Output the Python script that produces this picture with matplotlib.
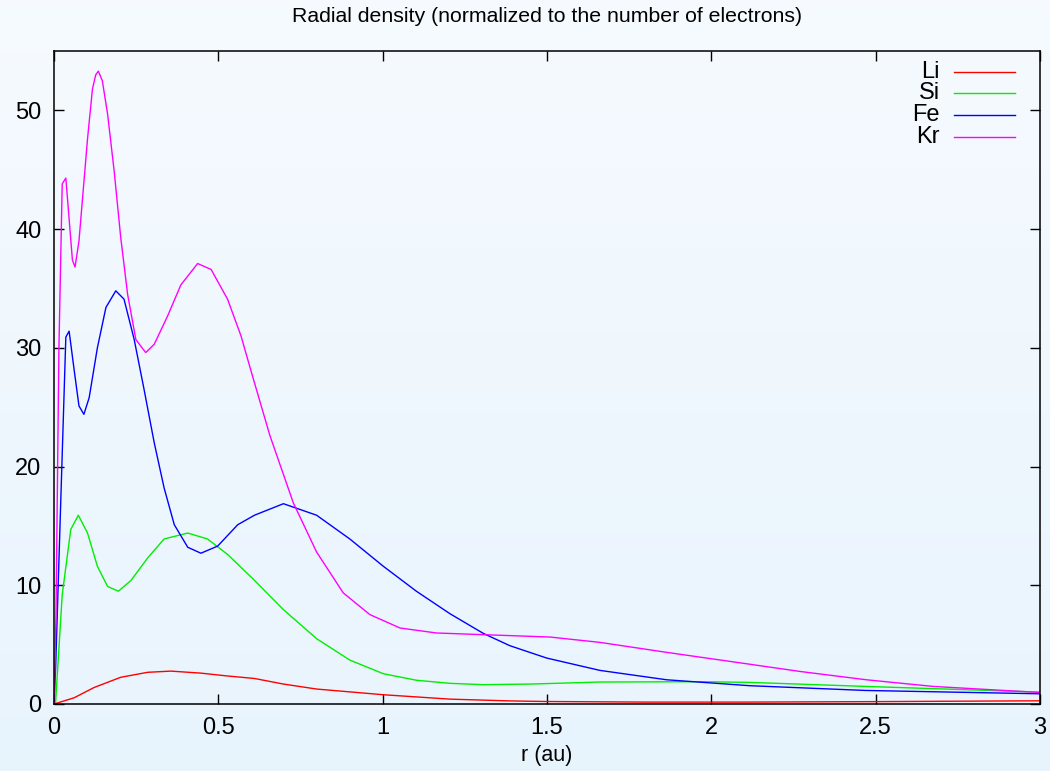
import matplotlib
matplotlib.use('Agg')
import matplotlib.pyplot as plt
import numpy as np

plt.rcParams['font.family'] = ['Liberation Sans', 'DejaVu Sans']

# radial densities (r in au)
LI_R = [0.0, 0.061, 0.122, 0.203, 0.285, 0.356, 0.447, 0.528, 0.61, 0.698,
        0.799, 1.002, 1.205, 1.387, 1.5, 1.8, 2.1, 2.5, 3.0]
LI_V = [0.0, 0.52, 1.39, 2.25, 2.67, 2.77, 2.6, 2.36, 2.15, 1.68,
        1.26, 0.78, 0.41, 0.26, 0.21, 0.16, 0.16, 0.2, 0.27]

SI_R = [0.0, 0.005, 0.025, 0.051, 0.074, 0.102, 0.132, 0.163, 0.196, 0.234,
        0.285, 0.335, 0.407, 0.467, 0.528, 0.605, 0.698, 0.799, 0.9, 1.002,
        1.103, 1.205, 1.306, 1.45, 1.661, 1.965, 2.117, 2.47, 3.0]
SI_V = [0.0, 0.2, 9.2, 14.7, 15.9, 14.4, 11.6, 9.9, 9.5, 10.4,
        12.3, 13.9, 14.4, 13.9, 12.6, 10.55, 7.95, 5.5, 3.7, 2.55,
        2.0, 1.74, 1.63, 1.68, 1.85, 1.88, 1.82, 1.48, 1.0]

FE_R = [0.0, 0.005, 0.036, 0.046, 0.061, 0.076, 0.091, 0.107, 0.132, 0.158,
        0.188, 0.213, 0.244, 0.274, 0.305, 0.335, 0.366, 0.407, 0.447, 0.498,
        0.559, 0.61, 0.698, 0.799, 0.9, 1.002, 1.103, 1.205, 1.306, 1.387,
        1.499, 1.661, 1.864, 2.117, 2.47, 3.0]
FE_V = [0.0, 3.1, 30.9, 31.4, 28.2, 25.1, 24.4, 25.8, 30.0, 33.4,
        34.8, 34.1, 30.7, 26.5, 22.0, 18.2, 15.1, 13.2, 12.7, 13.3,
        15.1, 15.9, 16.87, 15.9, 13.9, 11.6, 9.49, 7.6, 5.95, 4.91,
        3.87, 2.83, 2.04, 1.54, 1.14, 0.86]

KR_R = [0.0, 0.006, 0.015, 0.025, 0.036, 0.056, 0.064, 0.076, 0.102, 0.117,
        0.127, 0.135, 0.147, 0.163, 0.183, 0.203, 0.224, 0.249, 0.279, 0.305,
        0.346, 0.386, 0.437, 0.478, 0.528, 0.569, 0.6, 0.657, 0.728, 0.799,
        0.88, 0.961, 1.053, 1.164, 1.306, 1.509, 1.661, 1.864, 2.117, 2.27,
        2.472, 2.675, 3.0]
KR_V = [0.0, 7.4, 30.0, 43.8, 44.3, 37.4, 36.8, 39.0, 47.6, 51.8,
        53.0, 53.3, 52.5, 49.7, 44.9, 39.3, 34.5, 30.7, 29.6, 30.3,
        32.7, 35.3, 37.1, 36.6, 34.1, 31.0, 28.0, 22.6, 16.95, 12.8,
        9.36, 7.53, 6.4, 5.98, 5.84, 5.64, 5.19, 4.35, 3.35, 2.74,
        2.04, 1.48, 0.97]

SERIES = [('Li', LI_R, LI_V, '#ff0000'),
          ('Si', SI_R, SI_V, '#00ee00'),
          ('Fe', FE_R, FE_V, '#0000ff'),
          ('Kr', KR_R, KR_V, '#ff00ff')]

XTICKS = [0, 0.5, 1, 1.5, 2, 2.5, 3]
XTICKLABELS = ['0', '0.5', '1', '1.5', '2', '2.5', '3']
YTICKS = [0, 10, 20, 30, 40, 50]

fig = plt.figure(figsize=(10.5, 7.71), dpi=100)

# soft vertical gradient behind everything
bg = fig.add_axes([0, 0, 1, 1], zorder=-1)
top = np.array([0.965, 0.982, 0.998])
bot = np.array([0.910, 0.957, 0.992])
t = np.linspace(0, 1, 256)[:, None]
grad = top[None, None, :] * (1 - t[..., None]) + bot[None, None, :] * t[..., None]
bg.imshow(grad, aspect='auto', extent=[0, 1, 0, 1])
bg.set_axis_off()

ax = fig.add_axes([54 / 1050, 1 - 704 / 771, 986 / 1050, 653 / 771])
ax.set_facecolor('none')

for name, r, v, clr in SERIES:
    ax.plot(r, v, color=clr, linewidth=1.0)

ax.set_xlim(0, 3)
ax.set_ylim(0, 55)
ax.set_xticks(XTICKS)
ax.set_xticklabels(XTICKLABELS)
ax.set_yticks(YTICKS)
ax.tick_params(direction='in', length=7, width=1.0, top=True, right=True,
               labelsize=17, pad=9, colors='black')
for sp in ax.spines.values():
    sp.set_linewidth(1.1)

ax.set_title('Radial density (normalized to the number of electrons)',
             fontsize=15.3, pad=21)
ax.set_xlabel('r (au)', fontsize=15.5, labelpad=5)

# legend drawn by hand: labels right-aligned left of the line samples
ys = [0.9683, 0.9352, 0.902, 0.8683]
for (name, r, v, clr), yy in zip(SERIES, ys):
    ax.text(0.8986, yy, name, transform=ax.transAxes, ha='right',
            va='center', fontsize=17)
    ax.plot([0.9128, 0.9746], [yy, yy], transform=ax.transAxes,
            color=clr, linewidth=1.0)

fig.savefig('out.png', dpi=100)
